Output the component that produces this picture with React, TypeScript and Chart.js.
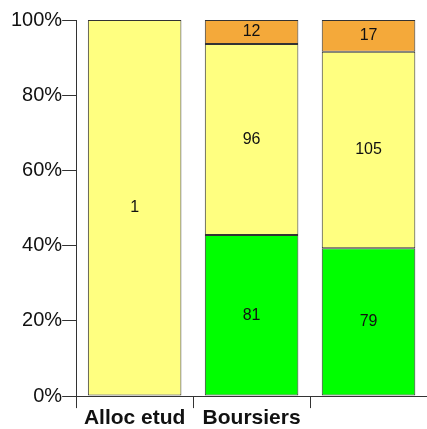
import React, { useEffect, useRef } from "react";
import { Chart, registerables } from "chart.js";

Chart.register(...registerables);

const categories = ["Alloc etud", "Boursiers", ""];
const greenCounts = [0, 81, 79];
const yellowCounts = [1, 96, 105];
const orangeCounts = [0, 12, 17];
const yTicks = [0, 20, 40, 60, 80, 100];

const totals = categories.map((_, i) => greenCounts[i] + yellowCounts[i] + orangeCounts[i]);
const pct = (arr: number[]) => arr.map((v, i) => (totals[i] ? (v / totals[i]) * 100 : 0));

const labelPlugin = {
  id: "segLabels",
  afterDatasetsDraw(chart: any) {
    const ctx = chart.ctx;
    ctx.save();
    ctx.font = "16px 'Liberation Sans', Arial, sans-serif";
    ctx.fillStyle = "#111";
    ctx.textAlign = "center";
    ctx.textBaseline = "middle";
    chart.data.datasets.forEach((ds: any, di: number) => {
      const meta = chart.getDatasetMeta(di);
      meta.data.forEach((el: any, i: number) => {
        const raw = ds.counts[i];
        if (!raw) return;
        const p = el.getProps(["x", "y", "base"], true);
        ctx.fillText(String(raw), p.x, (p.y + p.base) / 2);
      });
    });
    ctx.restore();
  },
};

export default function App() {
  const ref = useRef<HTMLCanvasElement>(null);
  useEffect(() => {
    if (!ref.current) return;
    const common = {
      borderColor: "#333",
      borderWidth: 1,
      borderSkipped: false,
      categoryPercentage: 1,
      barPercentage: 0.8,
    };
    const chart = new Chart(ref.current, {
      type: "bar",
      data: {
        labels: categories,
        datasets: [
          { ...common, label: "g", data: pct(greenCounts), counts: greenCounts, backgroundColor: "#00FF00" } as any,
          { ...common, label: "y", data: pct(yellowCounts), counts: yellowCounts, backgroundColor: "#FFFF80" } as any,
          { ...common, label: "o", data: pct(orangeCounts), counts: orangeCounts, backgroundColor: "#F4A93A" } as any,
        ],
      },
      options: {
        animation: false,
        responsive: false,
        maintainAspectRatio: false,
        layout: { padding: { top: 20, right: 0, left: 11, bottom: 0 } },
        plugins: { legend: { display: false }, tooltip: { enabled: false }, title: { display: false } },
        scales: {
          x: {
            stacked: true,
            grid: { drawOnChartArea: false, drawTicks: true, tickLength: 12, color: "#333", offset: true },
            border: { display: true, color: "#333", width: 1 },
            ticks: {
              color: "#111",
              padding: 1,
              font: { family: "'Liberation Sans', Arial, sans-serif", size: 21, weight: "bold", lineHeight: 0.9 },
            },
          },
          y: {
            stacked: true,
            min: 0,
            max: 100,
            afterBuildTicks: (axis: any) => {
              axis.ticks = yTicks.map((v) => ({ value: v }));
            },
            grid: { drawOnChartArea: false, drawTicks: true, tickLength: 14, color: "#333" },
            border: { display: true, color: "#333", width: 1 },
            ticks: {
              color: "#111",
              padding: 0,
              font: { family: "'Liberation Sans', Arial, sans-serif", size: 20 },
              callback: (v: any) => `${v}%`,
            },
          },
        },
      },
      plugins: [labelPlugin],
    });
    return () => chart.destroy();
  }, []);
  return (
    <div style={{ position: "fixed", left: 0, top: 0, width: 427, height: 429, background: "#fff" }}>
      <canvas ref={ref} width={427} height={429} style={{ display: "block" }} />
    </div>
  );
}
